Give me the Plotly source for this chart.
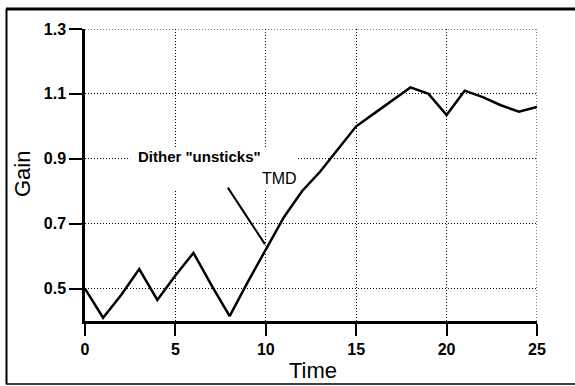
import plotly.graph_objects as go

time = list(range(0, 26))
gain = [0.50, 0.41, 0.48, 0.56, 0.465, 0.54, 0.61, 0.51, 0.415, 0.52, 0.62,
        0.72, 0.80, 0.86, 0.93, 1.00, 1.04, 1.08, 1.12, 1.10, 1.035, 1.11,
        1.09, 1.065, 1.045, 1.06]

x_ticks = [0, 5, 10, 15, 20, 25]
y_ticks = [0.5, 0.7, 0.9, 1.1, 1.3]
y_tick_labels = ["0.5", "0.7", "0.9", "1.1", "1.3"]

W, H = 575, 386
L, R, T, B = 85, 38, 29, 65
pw, ph = W - L - R, H - T - B

def px(xp):
    return (xp - L) / pw

def py(yp):
    return (H - B - yp) / ph

fig = go.Figure()
fig.add_trace(go.Scatter(x=time, y=gain, mode="lines",
                         line=dict(color="black", width=2.5), showlegend=False))

DOT = "1px,2px"
tickfont = dict(family="Liberation Sans, Arial", size=16, color="black", weight="bold")
fig.update_xaxes(range=[0, 25], tickvals=x_ticks, ticktext=[str(v) for v in x_ticks],
                 showline=True, linecolor="black", linewidth=2.5,
                 ticks="outside", ticklen=12, tickwidth=2, tickcolor="black",
                 showgrid=True, gridcolor="black", griddash=DOT, gridwidth=1,
                 zeroline=False, tickfont=tickfont)
fig.update_yaxes(range=[0.4, 1.3], tickvals=y_ticks, ticktext=y_tick_labels,
                 showline=True, linecolor="black", linewidth=2.5,
                 ticks="outside", ticklen=13, tickwidth=2, tickcolor="black",
                 showgrid=True, gridcolor="black", griddash=DOT, gridwidth=1,
                 zeroline=False, tickfont=tickfont)

shapes = []
# top & right dotted borders at the range edges
shapes.append(dict(type="line", xref="x", yref="y", x0=0, x1=25, y0=1.3, y1=1.3,
                   line=dict(color="black", width=1, dash=DOT)))
shapes.append(dict(type="line", xref="x", yref="y", x0=25, x1=25, y0=0.4, y1=1.3,
                   line=dict(color="black", width=1, dash=DOT)))
# white background behind annotation text (covers gridlines)
shapes.append(dict(type="rect", xref="x", yref="y", x0=2.5, x1=11.7, y0=0.805, y1=0.932,
                   fillcolor="white", line=dict(width=0), layer="above"))
# pointer line
shapes.append(dict(type="line", xref="x", yref="y", x0=7.9, y0=0.811, x1=9.95, y1=0.637,
                   line=dict(color="black", width=2)))
# outer frame: top, left, bottom
shapes.append(dict(type="line", xref="paper", yref="paper", x0=px(6), x1=px(580),
                   y0=py(9), y1=py(9), line=dict(color="black", width=3)))
shapes.append(dict(type="line", xref="paper", yref="paper", x0=px(6.5), x1=px(6.5),
                   y0=py(9), y1=py(384), line=dict(color="black", width=2)))
shapes.append(dict(type="line", xref="paper", yref="paper", x0=px(6), x1=px(580),
                   y0=py(384), y1=py(384), line=dict(color="black", width=1.5)))

annots = [
    dict(text='Dither "unsticks"', xref="x", yref="y", x=6.36, y=0.907, showarrow=False,
         xanchor="center", yanchor="middle",
         font=dict(family="Liberation Sans, Arial", size=15, color="black", weight="bold")),
    dict(text="TMD", xref="x", yref="y", x=10.73, y=0.839, showarrow=False,
         xanchor="center", yanchor="middle",
         font=dict(family="Liberation Sans, Arial", size=16, color="black")),
    dict(text="Gain", xref="paper", yref="paper", x=px(22), y=py(174), textangle=-90,
         xanchor="center", yanchor="middle",
         showarrow=False, font=dict(family="Liberation Sans, Arial", size=22, color="black")),
    dict(text="Time", xref="paper", yref="paper", x=px(313), y=py(370),
         xanchor="center", yanchor="middle",
         showarrow=False, font=dict(family="Liberation Sans, Arial", size=22, color="black")),
]

fig.update_layout(width=W, height=H, margin=dict(l=L, r=R, t=T, b=B),
                  paper_bgcolor="white", plot_bgcolor="white",
                  shapes=shapes, annotations=annots, showlegend=False)

fig.write_html("out.html")
